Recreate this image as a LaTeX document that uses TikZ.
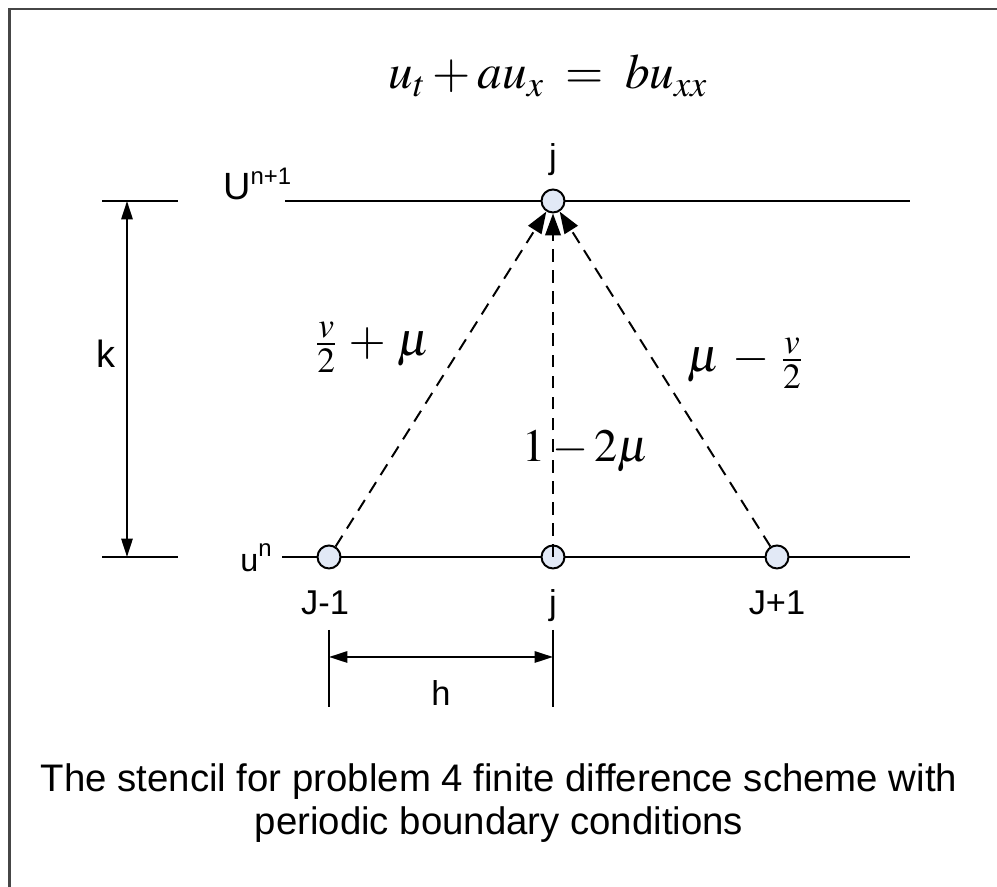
\documentclass[tikz,border=0pt]{standalone}
\usepackage{mathptmx}
\usepackage{fontspec}
\setmainfont{Liberation Sans}
\usetikzlibrary{arrows.meta}
\newcommand{\stcsup}[1]{\raisebox{10.7pt}{\fontsize{17}{19}\selectfont #1}}
\begin{document}
\begin{tikzpicture}[
  stcline/.style = {line width=1.4pt},
  stcpt/.style = {circle, draw, line width=1.4pt, fill=stcfill, minimum size=0.575cm, inner sep=0pt},
  stcarrow/.style = {line width=1.4pt, dash pattern=on 9pt off 6pt, -{Triangle[length=15.5pt, width=11pt]}},
  stcdim/.style = {line width=1.4pt, {Triangle[length=13pt, width=8pt]}-{Triangle[length=13pt, width=8pt]}},
  stclbl/.style = {font=\fontsize{24.5}{28}\selectfont},
  stcbig/.style = {font=\fontsize{27}{30}\selectfont},
  stcmath/.style = {font=\fontsize{34}{38}\selectfont}
]
  \definecolor{stcfill}{RGB}{226,233,246}
  \definecolor{stcframe}{RGB}{70,70,70}
  \useasboundingbox (0,0) rectangle (24.925,22.175);
  % frame
  \draw[stcframe, line width=1.5pt] (0.2375,0) -- (0.2375,21.96) -- (24.925,21.96);
  % equation
  \node[anchor=base] (eq) at (13.7,19.95) {\fontsize{35}{40}\selectfont $u_t + au_x \;=\; bu_{xx}$};
  % time levels
  \draw[stcline] (7.125,17.15) -- (22.75,17.15);
  \draw[stcline] (7.05,8.25) -- (22.75,8.25);
  \draw[stcline] (2.55,17.15) -- (4.45,17.15);
  \draw[stcline] (2.55,8.25) -- (4.45,8.25);
  \node[stcbig, anchor=base west, inner sep=0pt] (Unp) at (5.575,17.175) {U\stcsup{n+1}};
  \node[font=\fontsize{23}{26}\selectfont, anchor=base west, inner sep=0pt] (un) at (6.0,7.875) {u\stcsup{n}};
  % k
  \coordinate (ktop) at (3.175,17.15);
  \coordinate (kbot) at (3.175,8.25);
  \draw[stcdim] (kbot) -- (ktop);
  \node[stcbig] (k) at (2.65,13.325) {k};
  % grid points
  \node[stcpt] (top) at (13.825,17.15) {};
  \node[stcpt] (jm) at (8.225,8.25) {};
  \node[stcpt] (jc) at (13.825,8.25) {};
  \node[stcpt] (jp) at (19.425,8.25) {};
  \node[stclbl, anchor=base] (jtop) at (13.825,17.95) {j};
  \node[stclbl, anchor=base] (lm) at (8.125,6.8) {J-1};
  \node[stclbl, anchor=base] (lc) at (13.825,6.8) {j};
  \node[stclbl, anchor=base] (lp) at (19.425,6.8) {J+1};
  % stencil arrows
  \draw[stcarrow] (jm) -- (top);
  \draw[stcarrow] (jc.center) -- (top);
  \draw[stcarrow] (jp) -- (top);
  \node[stcmath] (wl) at (9.325,13.5) {$\frac{v}{2} \,+\, \mu$};
  \node[stcmath] (wr) at (18.625,13.1) {$\mu \,-\, \frac{v}{2}$};
  \node[font=\fontsize{33}{36}\selectfont] (wc) at (14.65,10.9) {$1 - 2\mu$};
  % h
  \draw[stcline] (8.225,6.425) -- (8.225,4.5);
  \draw[stcline] (13.825,6.425) -- (13.825,4.5);
  \coordinate (hl) at (8.225,5.75);
  \coordinate (hr) at (13.825,5.75);
  \draw[stcdim] (hl) -- (hr);
  \node[stclbl] (h) at (11.025,4.85) {h};
  % caption
  \node[anchor=base, font=\fontsize{27.3}{31}\selectfont] (cap1) at (12.475,2.375)
    {The stencil for problem 4 finite difference scheme with};
  \node[anchor=base, font=\fontsize{27.3}{31}\selectfont] (cap2) at (12.475,1.3)
    {periodic boundary conditions};
\end{tikzpicture}
\end{document}
